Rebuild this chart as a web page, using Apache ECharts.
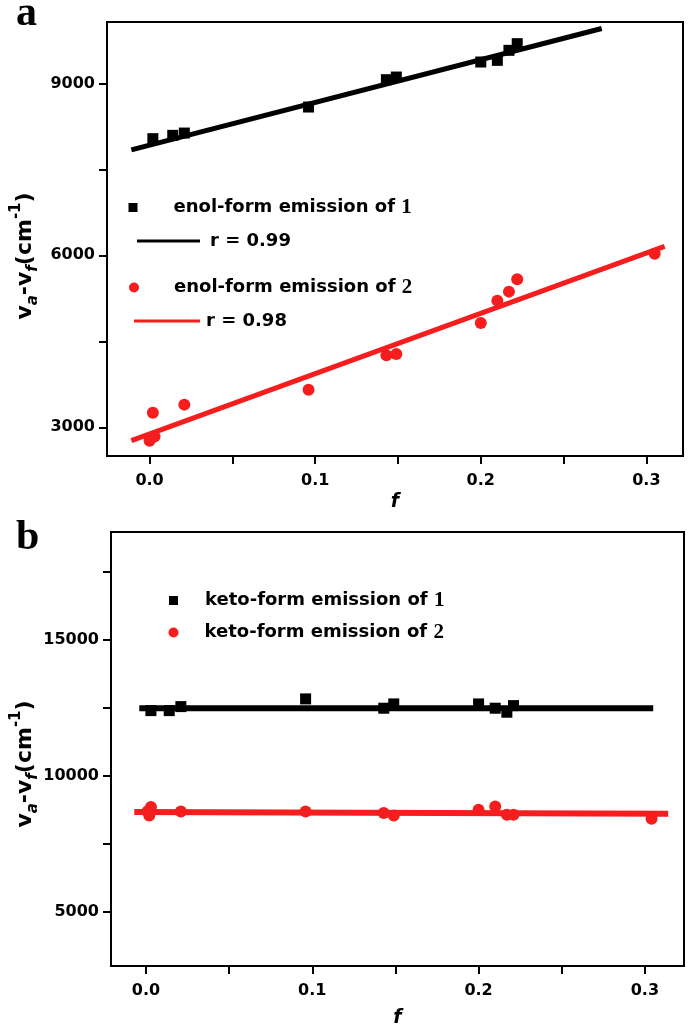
<!DOCTYPE html>
<html>
<head>
<meta charset="utf-8">
<script src="https://cdn.jsdelivr.net/npm/echarts@6/dist/echarts.min.js"></script>
<style>
  html, body { margin: 0; padding: 0; background: #fff; }
  #chart { width: 688px; height: 1031px; }
</style>
</head>
<body>
<div id="chart"></div>
<script>
// panel a: enol-form emission
const enolX1 = [0.002, 0.014, 0.021, 0.096, 0.143, 0.149, 0.200, 0.210, 0.217, 0.222];
const enolY1 = [8035, 8093, 8133, 8587, 9064, 9110, 9372, 9401, 9576, 9692];
const enolX2 = [0.000, 0.002, 0.003, 0.021, 0.096, 0.143, 0.149, 0.200, 0.210, 0.217, 0.222, 0.305];
const enolY2 = [2767, 3256, 2840, 3396, 3657, 4256, 4278, 4819, 5210, 5367, 5581, 6029];
// linear fits (end points)
const enolFitX1 = [-0.011, 0.273];
const enolFitY1 = [7840, 9956];
const enolFitX2 = [-0.011, 0.311];
const enolFitY2 = [2767, 6158];

// panel b: keto-form emission
const ketoX1 = [0.003, 0.014, 0.021, 0.096, 0.143, 0.149, 0.200, 0.210, 0.217, 0.221];
const ketoY1 = [12386, 12386, 12533, 12816, 12474, 12632, 12632, 12474, 12327, 12570];
const ketoX2 = [0.001, 0.002, 0.003, 0.021, 0.096, 0.143, 0.149, 0.200, 0.210, 0.217, 0.221, 0.304];
const ketoY2 = [8690, 8532, 8840, 8678, 8678, 8620, 8532, 8741, 8862, 8557, 8557, 8410];
const ketoFitX1 = [-0.004, 0.305];
const ketoFitY1 = [12474, 12474];
const ketoFitX2 = [-0.007, 0.314];
const ketoFitY2 = [8656, 8594];

// ticks
const xTicks = [0, 0.05, 0.1, 0.15, 0.2, 0.25, 0.3];
const xLabels = [0, 0.1, 0.2, 0.3];
const yTicksA = [3000, 4500, 6000, 7500, 9000];
const yLabelsA = [3000, 6000, 9000];
const yTicksB = [5000, 7500, 10000, 12500, 15000, 17500];
const yLabelsB = [5000, 10000, 15000];

const RED = '#f51d1d';
const SANS = '"DejaVu Sans", sans-serif';
const SERIF = '"Liberation Serif", serif';

const zip = (xs, ys) => xs.map((x, i) => [x, ys[i]]);

const xAxisBase = (idx, min, max, gap) => ({
  type: 'value', gridIndex: idx, min: min, max: max,
  name: 'f', nameLocation: 'middle', nameGap: gap,
  nameTextStyle: { fontFamily: SANS, fontWeight: 'bold', fontStyle: 'italic', fontSize: 19, color: '#000' },
  splitLine: { show: false },
  axisLine: { onZero: false, lineStyle: { color: '#000', width: 2 } },
  axisTick: { customValues: xTicks, length: 8, lineStyle: { color: '#000', width: 2 } },
  axisLabel: {
    customValues: xLabels, margin: 17, color: '#000',
    fontFamily: SANS, fontWeight: 'bold', fontSize: 16,
    formatter: v => v.toFixed(1)
  }
});

const yAxisBase = (idx, min, max, ticks, labels) => ({
  type: 'value', gridIndex: idx, min: min, max: max,
  splitLine: { show: false },
  axisLine: { show: true, onZero: false, lineStyle: { color: '#000', width: 2 } },
  axisTick: { show: true, customValues: ticks, length: 8, lineStyle: { color: '#000', width: 2 } },
  axisLabel: {
    customValues: labels, margin: 12, color: '#000',
    fontFamily: SANS, fontWeight: 'bold', fontSize: 16,
    formatter: v => String(v)
  }
});

const legendRich = {
  t: { fontFamily: SANS, fontWeight: 'bold', fontSize: 18, color: '#000' },
  n: { fontFamily: SERIF, fontWeight: 'bold', fontSize: 21, color: '#000' }
};
const legendFmt = name => name.startsWith('r =')
  ? '{t|' + name + '}'
  : '{t|' + name.slice(0, -1) + '}{n|' + name.slice(-1) + '}';

const makeLegend = (name, left, top, w, h, icon, padLeft) => ({
  data: [{ name: name, icon: icon }],
  left: left, top: top, padding: 0,
  itemWidth: w, itemHeight: h,
  formatter: legendFmt,
  textStyle: { rich: legendRich, padding: [0, 0, 0, padLeft] }
});

const yTitleRich = {
  v: { fontFamily: SANS, fontWeight: 'bold', fontSize: 22, color: '#000', lineHeight: 32 },
  s: { fontFamily: SANS, fontWeight: 'bold', fontStyle: 'italic', fontSize: 15, color: '#000', lineHeight: 15, verticalAlign: 'bottom' },
  p: { fontFamily: SANS, fontWeight: 'bold', fontSize: 15, color: '#000', lineHeight: 15, verticalAlign: 'top' }
};
const yTitleText = '{v|v}{s|a}{v|-v}{s|f}{v|(cm}{p|-1}{v|)}';

const chart = echarts.init(document.getElementById('chart'));

chart.setOption({
  backgroundColor: '#fff',
  animation: false,
  grid: [
    { left: 107, top: 22, width: 576, height: 434, show: true, borderColor: '#000', borderWidth: 2 },
    { left: 111, top: 532, width: 573, height: 434, show: true, borderColor: '#000', borderWidth: 2 }
  ],
  xAxis: [
    xAxisBase(0, -0.0257, 0.3221, 37),
    xAxisBase(1, -0.021, 0.3235, 43)
  ],
  yAxis: [
    yAxisBase(0, 2500, 10070, yTicksA, yLabelsA),
    yAxisBase(1, 3000, 18950, yTicksB, yLabelsB)
  ],
  legend: [
    makeLegend('enol-form emission of 1', 128.5, 197, 9, 9, 'rect', 31),
    makeLegend('r = 0.99', 137, 232, 63, 3, 'rect', 5),
    makeLegend('enol-form emission of 2', 129, 277, 10, 10, 'circle', 30),
    makeLegend('r = 0.98', 134, 312, 66, 3, 'rect', 1),
    makeLegend('keto-form emission of 1', 169, 590, 9, 9, 'rect', 22),
    makeLegend('keto-form emission of 2', 168.5, 622, 10, 10, 'circle', 21)
  ],
  graphic: [
    { type: 'text', x: 16, y: 35, style: { text: 'a', font: 'bold 42px "Liberation Serif"', fill: '#000', verticalAlign: 'bottom' } },
    { type: 'text', x: 16, y: 559, style: { text: 'b', font: 'bold 42px "Liberation Serif"', fill: '#000', verticalAlign: 'bottom' } },
    { type: 'text', x: 25, y: 256, rotation: Math.PI / 2,
      style: { text: yTitleText, rich: yTitleRich, align: 'center', verticalAlign: 'middle' } },
    { type: 'text', x: 25, y: 764, rotation: Math.PI / 2,
      style: { text: yTitleText, rich: yTitleRich, align: 'center', verticalAlign: 'middle' } }
  ],
  series: [
    { name: 'enol-form emission of 1', type: 'scatter', xAxisIndex: 0, yAxisIndex: 0,
      symbol: 'rect', symbolSize: 11, itemStyle: { color: '#000', opacity: 1 }, data: zip(enolX1, enolY1) },
    { name: 'r = 0.99', type: 'line', xAxisIndex: 0, yAxisIndex: 0, symbol: 'none',
      lineStyle: { color: '#000', width: 5 }, itemStyle: { color: '#000' }, data: zip(enolFitX1, enolFitY1) },
    { name: 'enol-form emission of 2', type: 'scatter', xAxisIndex: 0, yAxisIndex: 0,
      symbol: 'circle', symbolSize: 12, itemStyle: { color: RED, opacity: 1 }, data: zip(enolX2, enolY2) },
    { name: 'r = 0.98', type: 'line', xAxisIndex: 0, yAxisIndex: 0, symbol: 'none',
      lineStyle: { color: RED, width: 5 }, itemStyle: { color: RED }, data: zip(enolFitX2, enolFitY2) },

    { name: 'keto-form emission of 1', type: 'scatter', xAxisIndex: 1, yAxisIndex: 1,
      symbol: 'rect', symbolSize: 11, itemStyle: { color: '#000', opacity: 1 }, data: zip(ketoX1, ketoY1) },
    { name: 'keto fit 1', type: 'line', xAxisIndex: 1, yAxisIndex: 1, symbol: 'none',
      lineStyle: { color: '#000', width: 6 }, data: zip(ketoFitX1, ketoFitY1) },
    { name: 'keto-form emission of 2', type: 'scatter', xAxisIndex: 1, yAxisIndex: 1,
      symbol: 'circle', symbolSize: 12, itemStyle: { color: RED, opacity: 1 }, data: zip(ketoX2, ketoY2) },
    { name: 'keto fit 2', type: 'line', xAxisIndex: 1, yAxisIndex: 1, symbol: 'none',
      lineStyle: { color: RED, width: 6 }, data: zip(ketoFitX2, ketoFitY2) }
  ]
});
</script>
</body>
</html>
